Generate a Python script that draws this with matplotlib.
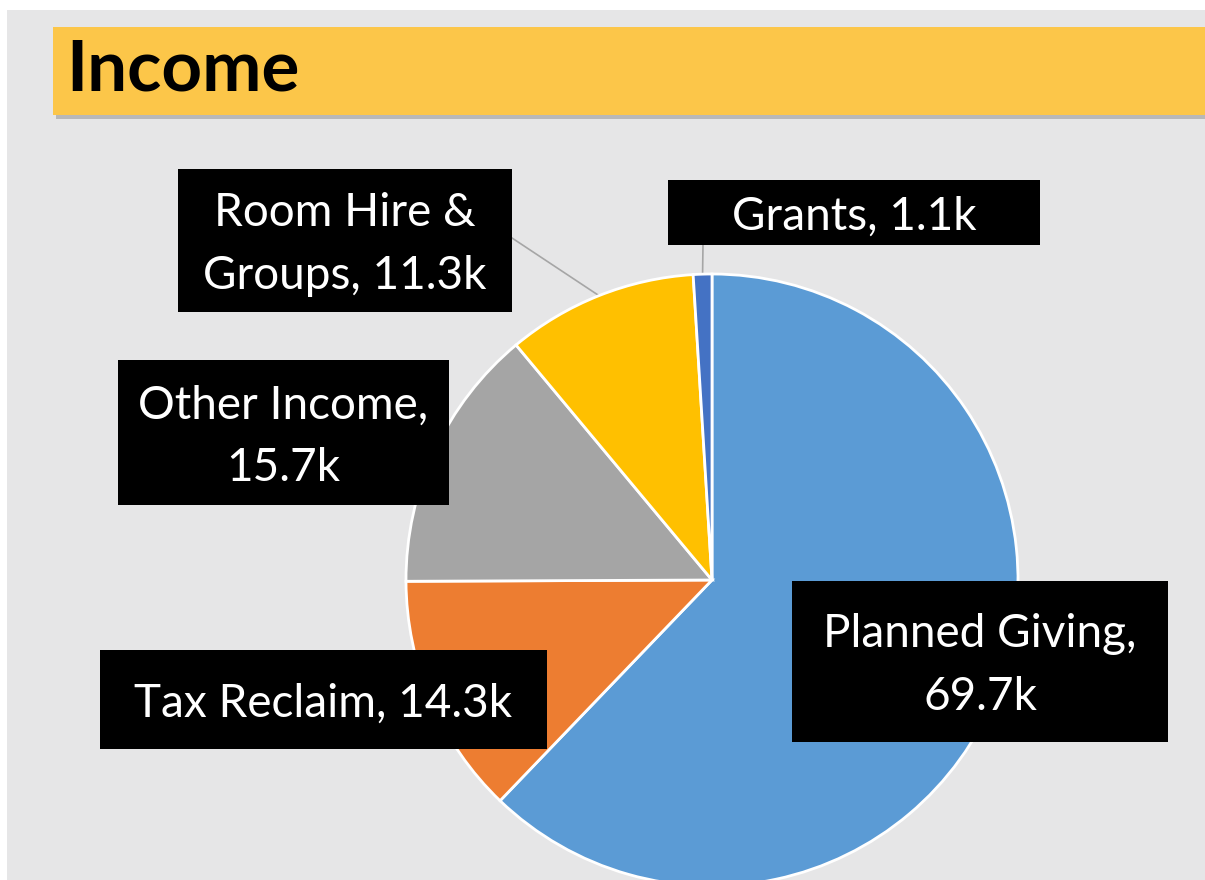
import numpy as np
import matplotlib.pyplot as plt
from matplotlib.patches import Rectangle

# data, clockwise from 12 o'clock
names = ["Planned Giving", "Tax Reclaim", "Other Income", "Room Hire &\nGroups", "Grants"]
values = [69.7, 14.3, 15.7, 11.3, 1.1]
label_texts = ["Planned Giving,\n69.7k", "Tax Reclaim, 14.3k", "Other Income,\n15.7k",
               "Room Hire &\nGroups, 11.3k", "Grants, 1.1k"]
colors = ["#5B9BD5", "#ED7D31", "#A5A5A5", "#FFC000", "#4472C4"]

W, H = 1205, 880
fig = plt.figure(figsize=(W / 100, H / 100), dpi=100, facecolor="white")
ax = fig.add_axes([0, 0, 1, 1])

def py(y):
    # pixel row (from top) -> data y
    return H - y

# grey paper background
ax.add_patch(Rectangle((7, 0), W, py(10), facecolor="#E6E6E7", edgecolor="none", zorder=0))

# title bar with shadow
ax.add_patch(Rectangle((56, py(119)), W, 88, facecolor="#9a9a9a", edgecolor="none", alpha=0.6, zorder=1))
ax.add_patch(Rectangle((53, py(115)), W, 88, facecolor="#FCC649", edgecolor="none", zorder=2))
ax.text(66, py(70), "Income", fontsize=51, fontweight="bold", family="Lato",
        va="center", ha="left", color="black", zorder=3)

# pie
cx, cy, r = 712, py(580), 306
wedges, _ = ax.pie(values, colors=colors, startangle=90, counterclock=False,
                   center=(cx, cy), radius=r,
                   wedgeprops=dict(edgecolor="white", linewidth=2))
for w in wedges:
    w.set_zorder(4)

# label boxes (x0, x1, top, bottom) in pixels
boxes = [(792, 1168, 581, 742), (100, 547, 650, 749), (118, 449, 360, 505),
         (178, 512, 169, 312), (668, 1040, 180, 245)]

# leader lines for the two small slices
for i, anchor in [(3, (512, 238)), (4, (703, 245))]:
    w = wedges[i]
    mid = np.deg2rad((w.theta1 + w.theta2) / 2)
    ex, ey = cx + r * np.cos(mid), cy + r * np.sin(mid)
    ax.plot([anchor[0], ex], [py(anchor[1]), ey], color="#a6a6a6", lw=1.2, zorder=3)

for txt, (x0, x1, t, b) in zip(label_texts, boxes):
    ax.add_patch(Rectangle((x0, py(b)), x1 - x0, b - t, facecolor="black",
                           edgecolor="none", zorder=5))
    ax.text((x0 + x1) / 2, py((t + b) / 2 + 4), txt, color="white", fontsize=33,
            family="Lato", ha="center", va="center", linespacing=1.6, zorder=6)

ax.set_xlim(0, W)
ax.set_ylim(0, H)
ax.set_aspect("auto")
ax.axis("off")

fig.savefig("out.png", dpi=100)
